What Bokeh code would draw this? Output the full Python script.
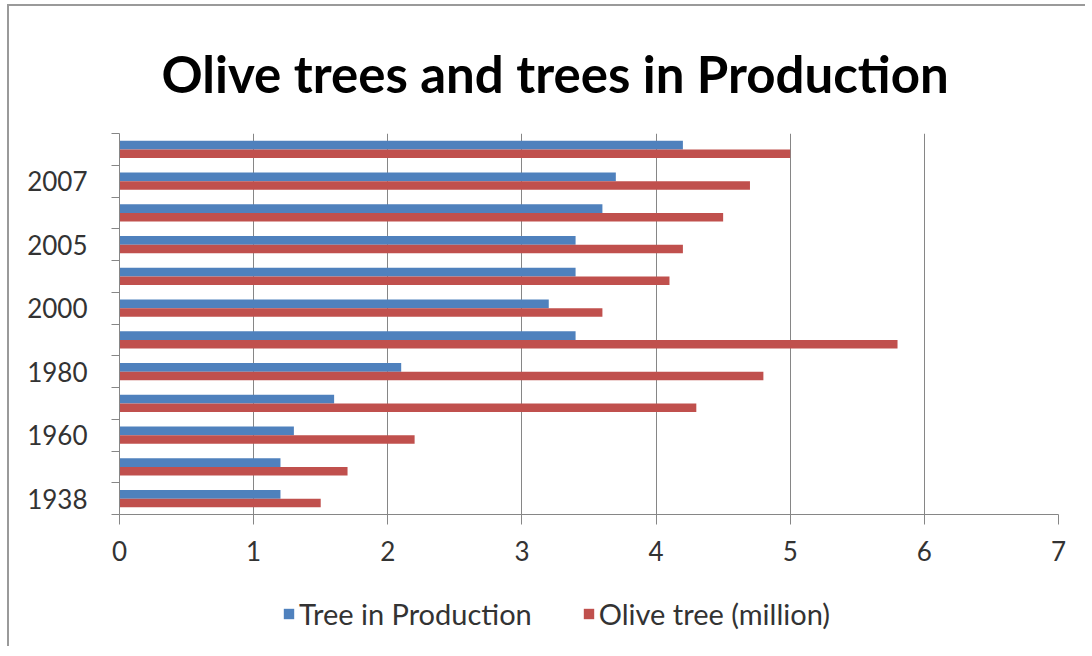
from bokeh.plotting import figure
from bokeh.layouts import column
from bokeh.models import ColumnDataSource, FixedTicker, Legend, LegendItem, Range1d
from bokeh.embed import file_html
from bokeh.resources import INLINE

# Data (bottom to top), labels shown only for every other category as in the source
year_labels = ["1938", "", "1960", "", "1980", "", "2000", "", "2005", "", "2007", ""]
tree_in_production = [1.2, 1.2, 1.3, 1.6, 2.1, 3.4, 3.2, 3.4, 3.4, 3.6, 3.7, 4.2]
olive_tree_million = [1.5, 1.7, 2.2, 4.3, 4.8, 5.8, 3.6, 4.1, 4.2, 4.5, 4.7, 5.0]
series_names = ["Tree in Production", "Olive tree (million)"]
series_colors = ["#4F81BD", "#C0504D"]
x_ticks = [0, 1, 2, 3, 4, 5, 6, 7]

n = len(year_labels)
pos = list(range(n))
bar_h = 0.27

src = ColumnDataSource(dict(
    pos=pos,
    pos_blue=[p_ + bar_h / 2 for p_ in pos],
    pos_red=[p_ - bar_h / 2 for p_ in pos],
    blue=tree_in_production,
    red=olive_tree_million,
))

W = 1076
p = figure(width=W, height=570, output_backend="svg", toolbar_location=None,
           x_range=Range1d(0, 7), y_range=Range1d(-0.5, n - 0.5),
           min_border_left=110, min_border_right=27, min_border_top=127, min_border_bottom=62)
p.outline_line_color = None
p.background_fill_color = "white"

rb = p.hbar(y="pos_blue", left=0, right="blue", height=bar_h, source=src,
            fill_color=series_colors[0], line_color=None)
rr = p.hbar(y="pos_red", left=0, right="red", height=bar_h, source=src,
            fill_color=series_colors[1], line_color=None)

p.title.text = "Olive trees and trees in Production"
p.title.align = "left"
p.title.offset = 42
p.title.text_font = "Lato"
p.title.text_font_size = "51px"
p.title.text_font_style = "bold"
p.title.text_color = "#000000"
p.title.standoff = 60

# x axis
xa = p.xaxis[0]
xa.ticker = FixedTicker(ticks=x_ticks)
xa.axis_line_color = "#868686"
xa.major_tick_line_color = "#868686"
xa.major_tick_out = 10
xa.major_tick_in = 0
xa.minor_tick_line_color = None
xa.major_label_text_font = "Lato"
xa.major_label_text_font_size = "26px"
xa.major_label_text_color = "#333333"
xa.major_label_standoff = 16

# y axis
ya = p.yaxis[0]
label_pos = [i for i in pos if year_labels[i]]
ya.ticker = FixedTicker(ticks=label_pos, minor_ticks=[i - 0.5 for i in range(n + 1)])
ya.major_label_overrides = {i: year_labels[i] for i in label_pos}
ya.axis_line_color = "#868686"
ya.major_tick_line_color = None
ya.major_tick_out = 0
ya.minor_tick_line_color = "#868686"
ya.minor_tick_out = 8
ya.minor_tick_in = 0
ya.major_label_text_font = "Lato"
ya.major_label_text_font_size = "26px"
ya.major_label_text_color = "#333333"
ya.major_label_standoff = 24

p.xgrid.grid_line_color = "#868686"
p.xgrid.ticker = FixedTicker(ticks=x_ticks[1:])
p.ygrid.grid_line_color = None

# legend strip below the chart (proxy renderers sit outside the visible range)
q = figure(width=W, height=70, output_backend="svg", toolbar_location=None,
           x_range=Range1d(0, 1), y_range=Range1d(0, 1),
           min_border_left=0, min_border_right=0, min_border_top=0, min_border_bottom=0)
q.axis.visible = False
q.grid.visible = False
q.outline_line_color = None
items = []
for name, col in zip(series_names, series_colors):
    r = q.hbar(y=[-10], left=[0], right=[0.1], height=0.1, fill_color=col, line_color=None)
    items.append(LegendItem(label=name, renderers=[r]))
legend = Legend(items=items, orientation="horizontal", location=(163, 15),
                label_text_font="Lato", label_text_font_size="29px", label_text_color="#333333",
                glyph_width=13, glyph_height=13, label_standoff=4, spacing=50,
                border_line_color=None, background_fill_alpha=0, margin=0, padding=4)
q.add_layout(legend, "center")

layout = column(p, q, spacing=0)
layout.margin = (4, 0, 0, 7)
layout.styles = {"border-top": "2px solid #9a9a9a", "border-left": "2px solid #9a9a9a"}

open("out.html", "w").write(file_html(layout, INLINE))
